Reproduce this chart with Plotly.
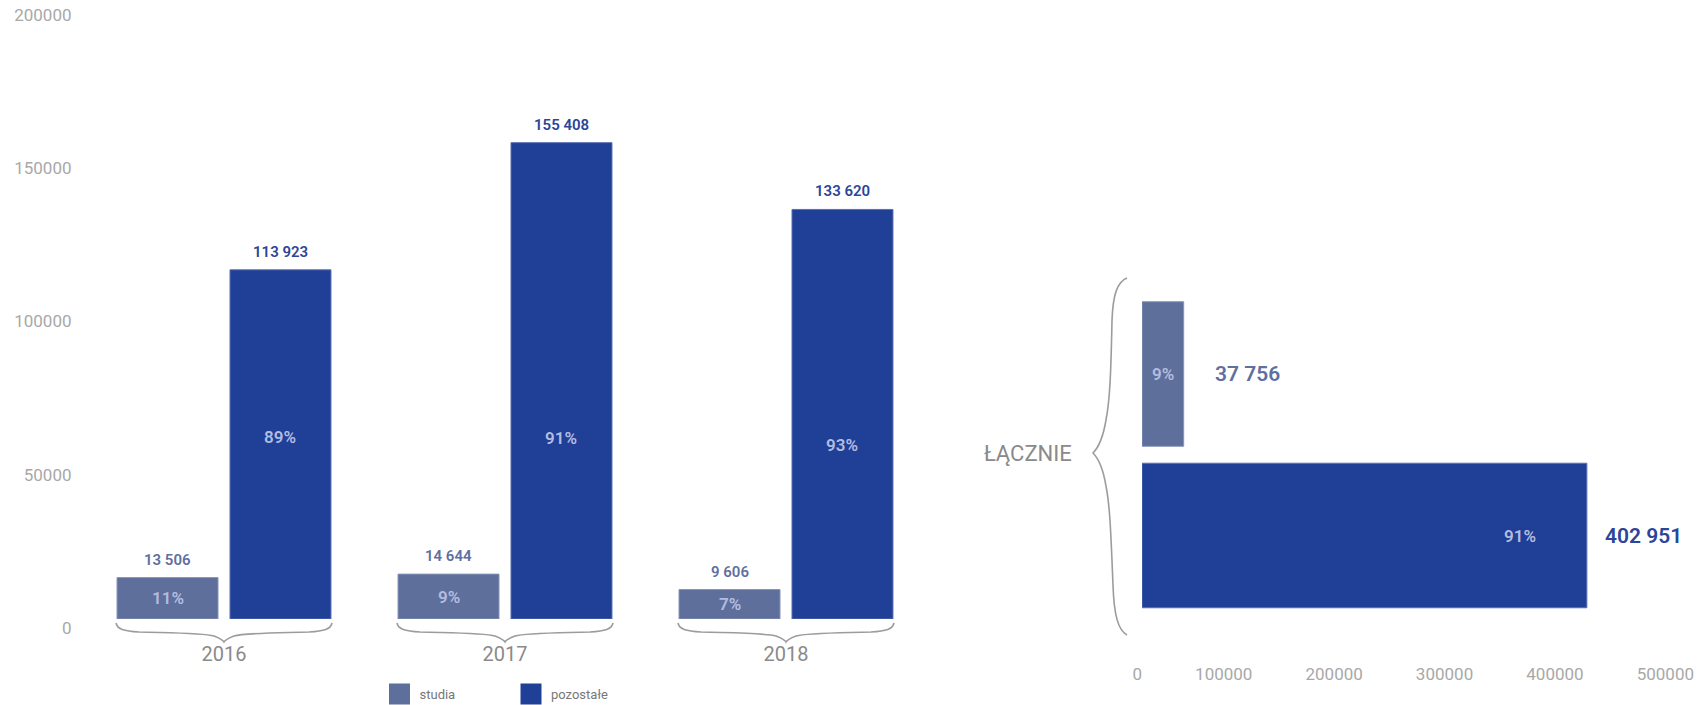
import plotly.graph_objects as go

# ---------------- data ----------------
years = ["2016", "2017", "2018"]
studia = [13506, 14644, 9606]
pozostale = [113923, 155408, 133620]
studia_pct = ["11%", "9%", "7%"]
pozostale_pct = ["89%", "91%", "93%"]

total_cats = ["studia", "pozostałe"]
total_values = [37756, 402951]
total_pct = ["9%", "91%"]
total_label = "ŁĄCZNIE"

y_ticks = [0, 50000, 100000, 150000, 200000]
x2_ticks = [0, 100000, 200000, 300000, 400000, 500000]

# label positions (y of the percentage labels inside the "pozostałe" bars)
poz_pct_y = [59400, 59000, 56800]

# ---------------- style ----------------
W, H = 1703, 705
C_STUDIA = "#5e6f9b"
C_POZ = "#203f96"
C_STUDIA_TXT = "#5f6f9f"
C_POZ_TXT = "#2b4599"
C_PCT = "#b3bce0"
C_TICK = "#a8a8a8"
C_GRAY = "#8a8a8a"
C_BRACE = "#9c9c9c"
FONT = "Roboto"


def fx(px):
    return px / W


def fy(py):
    return 1 - py / H


fmt = lambda v: f"{v:,}".replace(",", " ")

# left plot geometry (pixels)
L_X0, L_X1 = 83.5, 926.5
L_Y0, L_Y1 = 6, 619
BARGAP, GROUPGAP = 0.196, 0.106
half_off = (1 - BARGAP) / 4  # category offset of each bar in group

# right plot geometry
R_X0, R_X1 = 1142, 1694
R_Y0, R_Y1 = 293.25, 616.25

fig = go.Figure()

fig.add_trace(go.Bar(
    x=years, y=studia, name="studia", marker=dict(color=C_STUDIA, line=dict(color="#8793b8", width=1)),
    showlegend=False, xaxis="x", yaxis="y", hoverinfo="x+y"))
fig.add_trace(go.Bar(
    x=years, y=pozostale, name="pozostałe", marker=dict(color=C_POZ, line=dict(color="#5a6fb0", width=1)),
    showlegend=False, xaxis="x", yaxis="y", hoverinfo="x+y"))

# right chart
fig.add_trace(go.Bar(
    x=[total_values[0]], y=[total_cats[0]], orientation="h", offsetgroup="t", width=0.895,
    marker=dict(color=C_STUDIA, line=dict(color="#8793b8", width=1)), showlegend=False,
    xaxis="x2", yaxis="y2"))
fig.add_trace(go.Bar(
    x=[total_values[1]], y=[total_cats[1]], orientation="h", offsetgroup="t", width=0.895,
    marker=dict(color=C_POZ, line=dict(color="#5a6fb0", width=1)), showlegend=False,
    xaxis="x2", yaxis="y2"))

# legend entries
for name, col in [("studia", C_STUDIA), ("pozostałe", C_POZ)]:
    fig.add_trace(go.Scatter(
        x=[None], y=[None], mode="markers", name=name,
        marker=dict(symbol="square", size=16, color=col, line=dict(color=col, width=5)),
        xaxis="x", yaxis="y", showlegend=True))

ann = []
for i, y in enumerate(years):
    # studia
    ann.append(dict(x=i - half_off, y=studia[i], xref="x", yref="y", text=fmt(studia[i]),
                    yanchor="bottom", yshift=7, showarrow=False,
                    font=dict(family=FONT, size=15, color=C_STUDIA_TXT, weight=600)))
    ann.append(dict(x=i - half_off, y=studia[i] / 2, xref="x", yref="y", text=studia_pct[i],
                    yanchor="middle", showarrow=False,
                    font=dict(family=FONT, size=17, color=C_PCT, weight=600)))
    # pozostałe
    ann.append(dict(x=i + half_off, y=pozostale[i], xref="x", yref="y", text=fmt(pozostale[i]),
                    yanchor="bottom", yshift=7, showarrow=False,
                    font=dict(family=FONT, size=15, color=C_POZ_TXT, weight=600)))
    ann.append(dict(x=i + half_off, y=poz_pct_y[i], xref="x", yref="y", text=pozostale_pct[i],
                    yanchor="middle", showarrow=False,
                    font=dict(family=FONT, size=17, color=C_PCT, weight=600)))

# right chart labels
ann.append(dict(x=total_values[0] / 2, y=total_cats[0], xref="x2", yref="y2", text=total_pct[0],
                showarrow=False, font=dict(family=FONT, size=17, color=C_PCT, weight=600)))
ann.append(dict(x=total_values[0], y=total_cats[0], xref="x2", yref="y2", text=fmt(total_values[0]),
                xanchor="left", xshift=29, showarrow=False,
                font=dict(family=FONT, size=21, color=C_STUDIA_TXT, weight=600)))
ann.append(dict(x=total_values[1], y=total_cats[1], xref="x2", yref="y2", text=total_pct[1],
                xanchor="right", xshift=-49, showarrow=False,
                font=dict(family=FONT, size=17, color=C_PCT, weight=600)))
ann.append(dict(x=total_values[1], y=total_cats[1], xref="x2", yref="y2", text=fmt(total_values[1]),
                xanchor="left", xshift=16, showarrow=False,
                font=dict(family=FONT, size=21, color=C_POZ_TXT, weight=600)))
ann.append(dict(x=fx(1074), y=fy(453), xref="paper", yref="paper", text=total_label,
                xanchor="right", yanchor="middle", showarrow=False,
                font=dict(family=FONT, size=22, color=C_GRAY)))

# braces
shapes = []
slot = (L_X1 - L_X0) / len(years)
for i in range(len(years)):
    c = L_X0 + (i + 0.5) * slot
    pts = [
        ("M", [(c - 108, 623)]),
        ("C", [(c - 107, 629), (c - 100, 631), (c - 85, 632)]),
        ("C", [(c - 50, 633), (c - 20, 633), (c - 10, 636)]),
        ("C", [(c - 5, 638), (c - 1, 640), (c, 642)]),
        ("C", [(c + 1, 640), (c + 5, 638), (c + 10, 636)]),
        ("C", [(c + 20, 633), (c + 50, 633), (c + 85, 632)]),
        ("C", [(c + 100, 631), (c + 107, 629), (c + 108, 623)]),
    ]
    path = " ".join(cmd + " " + " ".join(f"{fx(a):.5f},{fy(b):.5f}" for a, b in p) for cmd, p in pts)
    shapes.append(dict(type="path", path=path, xref="paper", yref="paper",
                       line=dict(color=C_BRACE, width=1.6)))

rb = [
    ("M", [(1127, 278)]),
    ("C", [(1117, 282), (1113, 295), (1112, 320)]),
    ("C", [(1111, 370), (1110, 400), (1106, 420)]),
    ("C", [(1103, 438), (1098, 448), (1093, 453)]),
    ("C", [(1098, 458), (1103, 468), (1106, 486)]),
    ("C", [(1110, 506), (1111, 536), (1113, 585)]),
    ("C", [(1114, 615), (1118, 630), (1127, 635)]),
]
path = " ".join(cmd + " " + " ".join(f"{fx(a):.5f},{fy(b):.5f}" for a, b in p) for cmd, p in rb)
shapes.append(dict(type="path", path=path, xref="paper", yref="paper",
                   line=dict(color=C_BRACE, width=1.6)))

fig.update_layout(
    width=W, height=H, margin=dict(l=0, r=0, t=0, b=0, autoexpand=False),
    paper_bgcolor="white", plot_bgcolor="white",
    barmode="group", bargap=BARGAP, bargroupgap=GROUPGAP,
    font=dict(family=FONT),
    xaxis=dict(domain=[fx(L_X0), fx(L_X1)], anchor="y", type="category",
               range=[-0.5, len(years) - 0.5], showgrid=False, zeroline=False, showline=False,
               ticks="", ticklabelstandoff=21, tickfont=dict(family=FONT, size=20, color=C_GRAY),
               automargin=False),
    yaxis=dict(domain=[fy(L_Y1), fy(L_Y0)], anchor="x", range=[0, 200000],
               tickvals=y_ticks, ticktext=[str(v) for v in y_ticks],
               showgrid=False, zeroline=False, showline=False, ticks="",
               ticklabelstandoff=11, ticklabelshift=9,
               tickfont=dict(family=FONT, size=17, color=C_TICK), automargin=False),
    xaxis2=dict(domain=[fx(R_X0), fx(R_X1)], anchor="y2", range=[0, 500000],
                tickvals=x2_ticks, ticktext=[str(v) for v in x2_ticks],
                ticklabelposition="outside left",
                showgrid=False, zeroline=False, showline=False, ticks="",
                ticklabelstandoff=46, tickfont=dict(family=FONT, size=17, color=C_TICK),
                automargin=False),
    yaxis2=dict(domain=[fy(R_Y1), fy(R_Y0)], anchor="x2", type="category",
                categoryorder="array", categoryarray=list(reversed(total_cats)),
                range=[-0.5, 1.5], visible=False, automargin=False),
    legend=dict(orientation="h", x=fx(379.5), y=fy(679), xanchor="left", yanchor="top",
                font=dict(family=FONT, size=13, color="#777777"),
                bgcolor="rgba(0,0,0,0)", entrywidth=86.5, entrywidthmode="pixels"),
    annotations=ann, shapes=shapes,
)

fig.write_html("out.html", config={"displayModeBar": False},
               post_script="document.body.style.margin='0';")
